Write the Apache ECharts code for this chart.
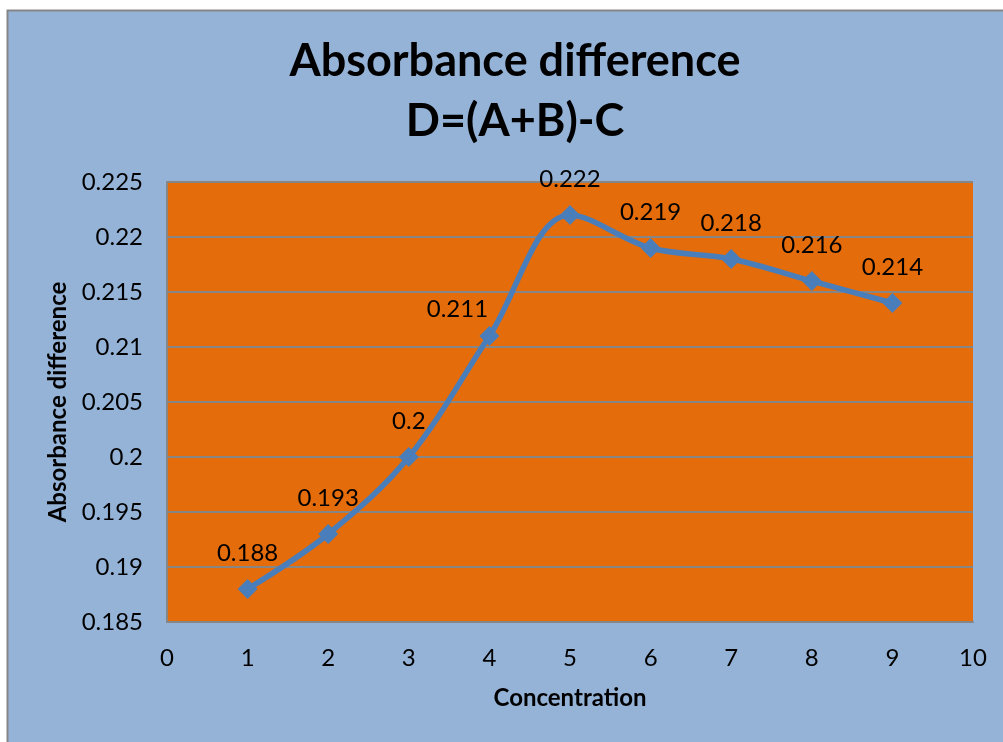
<!DOCTYPE html>
<html><head><meta charset="utf-8">
<script src="https://cdn.jsdelivr.net/npm/echarts@6/dist/echarts.min.js"></script>
<style>html,body{margin:0;padding:0;background:#fff;}#c{width:1003px;height:742px;}</style>
</head><body><div id="c"></div>
<script>
const titleLines = ["Absorbance difference", "D=(A+B)-C"];
const xName = "Concentration";
const yName = "Absorbance difference";
const concentration = [1, 2, 3, 4, 5, 6, 7, 8, 9];
const absorbance = [0.188, 0.193, 0.2, 0.211, 0.222, 0.219, 0.218, 0.216, 0.214];
const labelText = ["0.188", "0.193", "0.2", "0.211", "0.222", "0.219", "0.218", "0.216", "0.214"];

const font = "Lato, 'Open Sans', sans-serif";
const chart = echarts.init(document.getElementById('c'));
const data = concentration.map((x, i) => {
  const d = { value: [x, absorbance[i]] };
  if (i === 3) d.label = { offset: [-32, 9] };
  return d;
});
chart.setOption({
  backgroundColor: '#ffffff',
  animation: false,
  graphic: [{
    type: 'rect', z: -10, silent: true,
    shape: { x: 7.5, y: 10.5, width: 1010, height: 750 },
    style: { fill: '#95B3D7', stroke: '#868686', lineWidth: 2 }
  }],
  title: {
    text: titleLines.join('\n'),
    left: 510, textAlign: 'center', top: 26,
    textStyle: { fontFamily: font, fontSize: 45, fontWeight: 'bold', color: '#000', lineHeight: 60 }
  },
  grid: { left: 167, right: 30, top: 182, bottom: 120, containLabel: false,
          show: true, backgroundColor: '#E46C0A', borderWidth: 0 },
  xAxis: {
    type: 'value', min: 0, max: 10, interval: 1,
    name: xName, nameLocation: 'middle', nameGap: 64,
    nameTextStyle: { fontFamily: font, fontSize: 24, fontWeight: 'bold', color: '#000' },
    axisLine: { show: true, lineStyle: { color: '#868686', width: 2 } },
    axisTick: { show: false },
    axisLabel: { fontFamily: font, fontSize: 24, color: '#000', margin: 24 },
    splitLine: { show: false }
  },
  yAxis: {
    type: 'value', min: 0.185, max: 0.225, interval: 0.005,
    name: yName, nameLocation: 'middle', nameGap: 96, nameRotate: 90,
    nameTextStyle: { fontFamily: font, fontSize: 24, fontWeight: 'bold', color: '#000' },
    axisLine: { show: true, lineStyle: { color: '#868686', width: 2 } },
    axisTick: { show: false },
    axisLabel: { fontFamily: font, fontSize: 24, color: '#000', margin: 24,
                 formatter: v => String(+v.toFixed(3)) },
    splitLine: { show: true, lineStyle: { color: '#868686', width: 2 } }
  },
  series: [{
    type: 'line', data: data, smooth: 0.35,
    symbol: 'diamond', symbolSize: 20,
    lineStyle: { color: '#4A7EBB', width: 5.5 },
    itemStyle: { color: '#4A7EBB' },
    label: { show: true, position: 'top', distance: 14,
             fontFamily: font, fontSize: 24, color: '#000',
             formatter: p => labelText[p.dataIndex] }
  }]
});
</script></body></html>
